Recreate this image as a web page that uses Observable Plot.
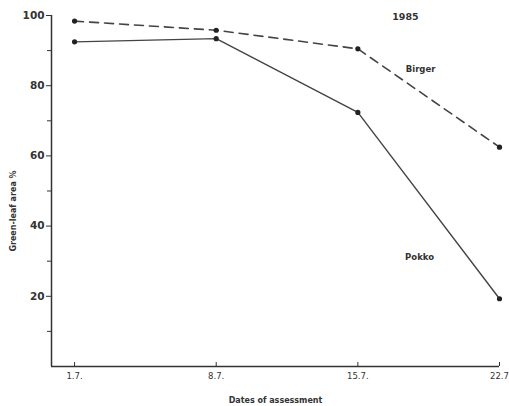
<!DOCTYPE html>
<html>
<head>
<meta charset="utf-8">
<script src="https://cdn.jsdelivr.net/npm/d3@7"></script>
<script src="https://cdn.jsdelivr.net/npm/@observablehq/plot@0.6"></script>
<style>
  html, body { margin: 0; padding: 0; background: #fff; }
  #chart svg { display: block; }
</style>
</head>
<body>
<div id="chart"></div>
<script>
// Dates of assessment (day of July) and their tick labels
const days = [1, 8, 15, 22];
const dayLabels = ["1.7.", "8.7.", "15.7.", "22.7"];
// Green-leaf area % per cultivar
const birger = [98.4, 95.8, 90.5, 62.5];
const pokko = [92.5, 93.4, 72.4, 19.3];
const yMajor = [20, 40, 60, 80, 100];
const yMinor = [10, 30, 50, 70, 90];

const rows = [
  ...days.map((d, i) => ({day: d, value: birger[i], cultivar: "Birger"})),
  ...days.map((d, i) => ({day: d, value: pokko[i], cultivar: "Pokko"}))
];

const ink = "#333";
const font = "DejaVu Sans, sans-serif";

const chart = Plot.plot({
  width: 509,
  height: 406,
  marginTop: 15,
  marginLeft: 51,
  marginRight: 10,
  marginBottom: 40,
  style: {fontFamily: font, color: ink, background: "#fff"},
  x: {domain: [-0.14, 22]},
  y: {domain: [0, 100]},
  marks: [
    // axis lines
    Plot.ruleY([0], {stroke: ink, strokeWidth: 1.5}),
    Plot.ruleX([-0.14], {stroke: ink, strokeWidth: 1.5}),
    // y axis
    Plot.axisY(yMajor, {tickSize: 5, tickPadding: 2, fontSize: 10.5, fontWeight: "bold", label: null, stroke: ink, fill: ink}),
    Plot.axisY(yMinor, {tickSize: 4, tickFormat: () => "", label: null, stroke: ink}),
    // x axis (ticks inward)
    Plot.axisX(days, {tickSize: -4, tickPadding: 10, tickFormat: (d) => dayLabels[days.indexOf(d)], fontSize: 8.5, label: null, stroke: ink, fill: ink}),
    // axis titles
    Plot.text(["Dates of assessment"], {frameAnchor: "bottom", textAnchor: "middle", dy: 36, fontSize: 8, fill: ink, fontWeight: "bold", style: "letter-spacing:0.8px"}),
    Plot.text(["Green-leaf area %"], {frameAnchor: "left", textAnchor: "middle", dx: -38, dy: 20, rotate: -90, fontSize: 8, fill: ink, fontWeight: "bold"}),
    // lines
    Plot.line(rows.filter(d => d.cultivar === "Birger"), {x: "day", y: "value", stroke: "#444", strokeWidth: 1.6, strokeDasharray: "9,6"}),
    Plot.line(rows.filter(d => d.cultivar === "Pokko"), {x: "day", y: "value", stroke: "#444", strokeWidth: 1.4}),
    Plot.dot(rows, {x: "day", y: "value", r: 2.6, fill: "#222", stroke: "none"}),
    // annotations
    Plot.text(["1985"], {x: 17.35, y: 99.7, fontSize: 9.5, fontWeight: "bold", fill: ink}),
    Plot.text(["Birger"], {x: 18.1, y: 84.6, fontSize: 8.5, fontWeight: "bold", fill: ink}),
    Plot.text(["Pokko"], {x: 18.05, y: 31, fontSize: 8.5, fontWeight: "bold", fill: ink})
  ]
});
document.getElementById("chart").appendChild(chart);
</script>
</body>
</html>
